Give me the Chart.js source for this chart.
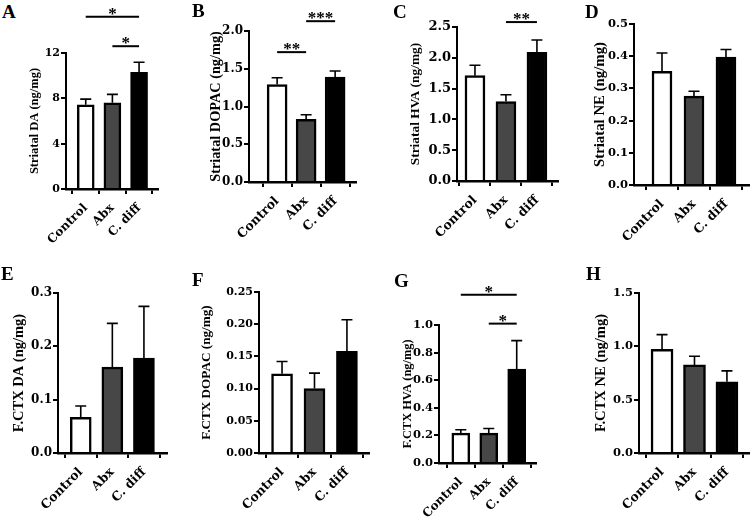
<!DOCTYPE html>
<html lang="en">
<head>
<meta charset="UTF-8">
<title>Striatal and F.CTX monoamines</title>
<script src="https://cdn.jsdelivr.net/npm/chart.js"></script>
<style>
  body { margin: 0; background: #fff; }
  #fig { position: relative; width: 750px; height: 517px; overflow: hidden; }
  #fig canvas { position: absolute; }
  .tag { position: absolute; font: bold 19px "Liberation Serif", serif; line-height: 19px; color: #000; }
</style>
</head>
<body>
<div id="fig"></div>

<script>
// groups on the x axis
const groups = ['Control', 'Abx', 'C. diff'];

// means and SEM (ng/mg)
const strDA = [7.43, 7.61, 10.3];
const strDAsem = [0.5, 0.74, 0.88];
const strDOPAC = [1.29, 0.83, 1.39];
const strDOPACsem = [0.09, 0.06, 0.08];
const strHVA = [1.71, 1.29, 2.09];
const strHVAsem = [0.17, 0.11, 0.2];
const strNE = [0.353, 0.276, 0.397];
const strNEsem = [0.057, 0.015, 0.024];
const ctxDA = [0.067, 0.161, 0.178];
const ctxDAsem = [0.021, 0.082, 0.097];
const ctxDOPAC = [0.123, 0.100, 0.158];
const ctxDOPACsem = [0.019, 0.024, 0.049];
const ctxHVA = [0.217, 0.217, 0.68];
const ctxHVAsem = [0.024, 0.033, 0.207];
const ctxNE = [0.972, 0.826, 0.668];
const ctxNEsem = [0.138, 0.081, 0.102];

// significance brackets: group index pairs, level in axis units, label
const sigA = [{ from: 0, to: 2, at: 15.2, txt: '*' }, { from: 1, to: 2, at: 12.6, txt: '*' }];
const sigB = [{ from: 0, to: 1, at: 1.72, txt: '**' }, { from: 1, to: 2, at: 2.13, txt: '***' }];
const sigC = [{ from: 1, to: 2, at: 2.58, txt: '**' }];
const sigG = [{ from: 0, to: 2, at: 1.22, txt: '*' }, { from: 1, to: 2, at: 1.01, txt: '*' }];

// y axis ranges
const yMax = { A: 12, B: 2, C: 2.5, D: 0.5, E: 0.3, F: 0.25, G: 1, H: 1.5 };
const yStep = { A: 4, B: 0.5, C: 0.5, D: 0.1, E: 0.1, F: 0.05, G: 0.2, H: 0.5 };

const FONT = '"Liberation Serif", serif';
const TICKFONT = '"DejaVu Serif", serif';
const barFill = ['#ffffff', '#474747', '#000000'];

// panel geometry (page pixels) and text sizes
const panels = [
  { tag: 'A', tx: 2,   ty: 2,   title: 'Striatal DA (ng/mg)',    mean: strDA,    sem: strDAsem,    sig: sigA, dec: 0, titleX: 35,  axisX: 66,  rightX: 158, topY: 53,  zeroY: 189, xMin: 0.26, xMax: 3.71, bar: 17, fs: 12.5, ts: 11,   ls: 12,   row: 0 },
  { tag: 'B', tx: 192, ty: 1,   title: 'Striatal DOPAC (ng/mg)', mean: strDOPAC, sem: strDOPACsem, sig: sigB, dec: 1, titleX: 216, axisX: 249, rightX: 356, topY: 31,  zeroY: 182, xMin: 0.03, xMax: 3.72, bar: 20, fs: 14.3, ts: 12,   ls: 12.5, row: 0 },
  { tag: 'C', tx: 393, ty: 2,   title: 'Striatal HVA (ng/mg)',   mean: strHVA,   sem: strHVAsem,   sig: sigC, dec: 1, titleX: 416, axisX: 457, rightX: 558, topY: 27,  zeroY: 181, xMin: 0.42, xMax: 3.68, bar: 20, fs: 13.4, ts: 13,   ls: 12.5, row: 0 },
  { tag: 'D', tx: 585, ty: 2,   title: 'Striatal NE (ng/mg)',    mean: strNE,    sem: strNEsem,    sig: [],   dec: 1, titleX: 599, axisX: 634, rightX: 749, topY: 24,  zeroY: 185, xMin: 0.125, xMax: 3.72, bar: 20, fs: 14.8, ts: 11.5, ls: 12.5, row: 0 },
  { tag: 'E', tx: 1,   ty: 264, title: 'F.CTX DA (ng/mg)',       mean: ctxDA,    sem: ctxDAsem,    sig: [],   dec: 1, titleX: 19,  axisX: 58,  rightX: 167, topY: 293, zeroY: 453, xMin: 0.28, xMax: 3.73, bar: 21, fs: 14.5, ts: 12,   ls: 12.5, row: 1 },
  { tag: 'F', tx: 192, ty: 270, title: 'F.CTX DOPAC (ng/mg)',    mean: ctxDOPAC, sem: ctxDOPACsem, sig: [],   dec: 2, titleX: 207, axisX: 259, rightX: 369, topY: 292, zeroY: 453, xMin: 0.29, xMax: 3.68, bar: 21, fs: 13.2, ts: 11,   ls: 12.5, row: 1 },
  { tag: 'G', tx: 394, ty: 271, title: 'F.CTX HVA (ng/mg)',      mean: ctxHVA,   sem: ctxHVAsem,   sig: sigG, dec: 1, titleX: 408, axisX: 439, rightX: 536, topY: 325, zeroY: 463, xMin: 0.22, xMax: 3.69, bar: 18, fs: 12.4, ts: 11.5, ls: 12,   row: 1 },
  { tag: 'H', tx: 586, ty: 264, title: 'F.CTX NE (ng/mg)',       mean: ctxNE,    sem: ctxNEsem,    sig: [],   dec: 1, titleX: 600, axisX: 639, rightX: 749, topY: 293, zeroY: 453, xMin: 0.29, xMax: 3.68, bar: 22, fs: 14.6, ts: 11.5, ls: 12.5, row: 1 }
];
const rows = [{ top: 0, height: 260 }, { top: 258, height: 259 }];

// upper SEM whiskers and significance brackets
const errBars = {
  id: 'errBars',
  afterDatasetsDraw(chart) {
    const ds = chart.data.datasets[0];
    const meta = chart.getDatasetMeta(0);
    const y = chart.scales.y;
    const ctx = chart.ctx;
    ctx.save();
    ctx.strokeStyle = '#000';
    ctx.lineWidth = 1.6;
    meta.data.forEach((bar, i) => {
      const top = y.getPixelForValue(ds.mean[i] + ds.sem[i]);
      ctx.beginPath();
      ctx.moveTo(bar.x, bar.y);
      ctx.lineTo(bar.x, top);
      ctx.moveTo(bar.x - 5.5, top);
      ctx.lineTo(bar.x + 5.5, top);
      ctx.stroke();
    });
    ctx.lineWidth = 2;
    ctx.fillStyle = '#000';
    ctx.font = 'bold 17px ' + FONT;
    ctx.textAlign = 'center';
    ctx.textBaseline = 'alphabetic';
    ds.sig.forEach(s => {
      const x1 = meta.data[s.from].x, x2 = meta.data[s.to].x;
      const yy = y.getPixelForValue(s.at);
      ctx.beginPath();
      ctx.moveTo(x1, yy);
      ctx.lineTo(x2, yy);
      ctx.stroke();
      ctx.fillText(s.txt, (x1 + x2) / 2, yy + 2);
    });
    ctx.restore();
  }
};

const fig = document.getElementById('fig');

panels.forEach(p => {
  const row = rows[p.row];
  const left = p.titleX - 12;
  const width = p.rightX - left + 6;
  const yW = p.axisX - (p.titleX - 8);
  const xH = row.top + row.height - p.zeroY;

  const cv = document.createElement('canvas');
  cv.width = width;
  cv.height = row.height;
  cv.style.left = left + 'px';
  cv.style.top = row.top + 'px';
  fig.appendChild(cv);

  const tag = document.createElement('div');
  tag.className = 'tag';
  tag.textContent = p.tag;
  tag.style.left = p.tx + 'px';
  tag.style.top = p.ty + 'px';
  fig.appendChild(tag);

  new Chart(cv, {
    type: 'bar',
    data: {
      datasets: [{
        data: p.mean.map((v, i) => ({ x: i + 1, y: v })),
        mean: p.mean,
        sem: p.sem,
        sig: p.sig,
        backgroundColor: barFill,
        borderColor: '#000',
        borderWidth: 2.5,
        borderSkipped: 'start',
        barThickness: p.bar
      }]
    },
    options: {
      responsive: false,
      animation: false,
      devicePixelRatio: 1,
      layout: { padding: { left: 4, right: 6, top: p.topY - row.top, bottom: 0 } },
      plugins: { legend: { display: false }, tooltip: { enabled: false } },
      scales: {
        x: {
          type: 'linear',
          z: 1,
          min: p.xMin,
          max: p.xMax,
          offset: false,
          afterBuildTicks: s => { s.ticks = groups.map((g, i) => ({ value: i + 1 })); },
          afterFit: s => { s.height = xH; },
          grid: { display: true, drawOnChartArea: false, tickLength: 5, color: '#000', lineWidth: 2 },
          border: { display: true, color: '#000', width: 2.5 },
          ticks: {
            autoSkip: false,
            minRotation: 45,
            maxRotation: 45,
            padding: 7,
            color: '#000',
            font: { family: TICKFONT, size: p.ls, weight: 'bold' },
            callback: v => groups[v - 1]
          }
        },
        y: {
          min: 0,
          max: yMax[p.tag],
          afterFit: s => { s.width = yW; },
          grid: { display: true, drawOnChartArea: false, tickLength: 5, color: '#000', lineWidth: 2 },
          border: { display: true, color: '#000', width: 2 },
          ticks: {
            stepSize: yStep[p.tag],
            padding: 1,
            color: '#000',
            font: { family: TICKFONT, size: p.ts, weight: 'bold' },
            callback: v => v.toFixed(p.dec)
          },
          title: {
            display: true,
            text: p.title,
            color: '#000',
            padding: 0,
            font: { family: FONT, size: p.fs, weight: 'bold' }
          }
        }
      }
    },
    plugins: [errBars]
  });
});
</script>
</body>
</html>
